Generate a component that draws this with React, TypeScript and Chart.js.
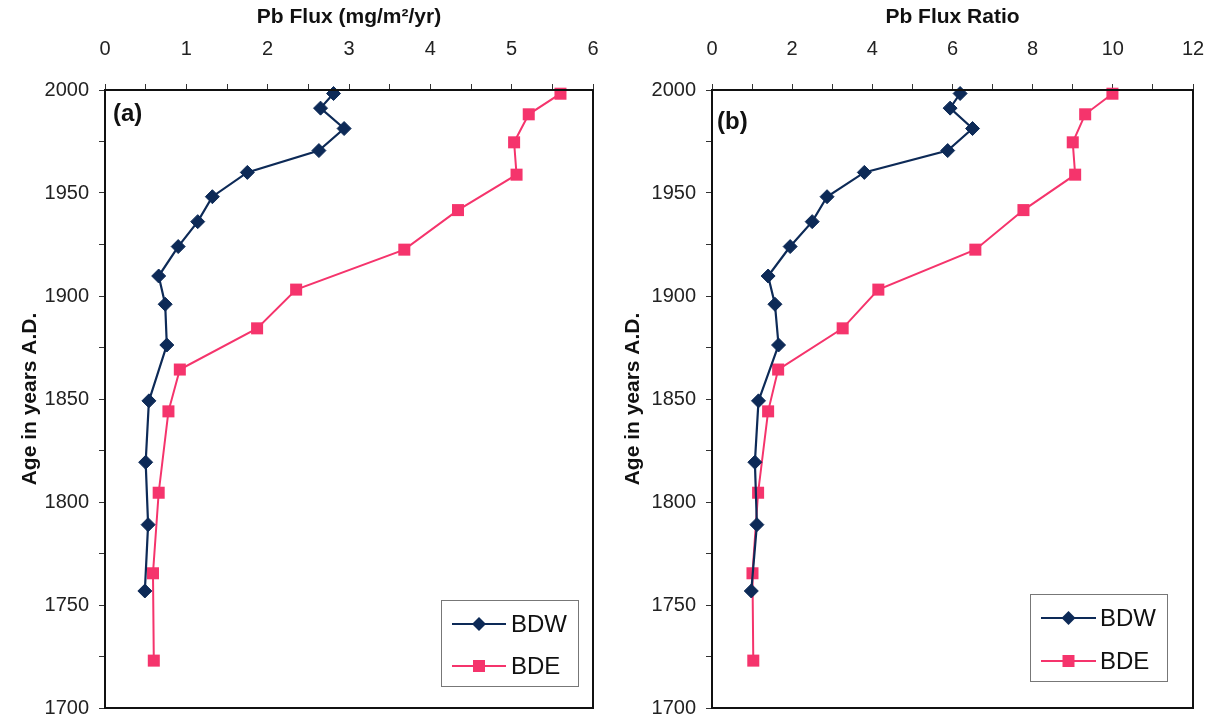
import React, { useEffect, useRef } from 'react';
import { Chart, registerables } from 'chart.js';

Chart.register(...registerables);

// ---- data ----
const bdwYears = [1998.3, 1991.2, 1981.3, 1970.6, 1960.0, 1948.2, 1936.1, 1924.0, 1909.7, 1896.0, 1876.2, 1849.1, 1819.3, 1789.0, 1756.8];
const bdwFlux = [2.81, 2.65, 2.94, 2.63, 1.75, 1.32, 1.14, 0.9, 0.66, 0.74, 0.76, 0.54, 0.5, 0.53, 0.49];
const bdwRatio = [6.19, 5.94, 6.5, 5.88, 3.8, 2.87, 2.5, 1.95, 1.4, 1.57, 1.66, 1.16, 1.07, 1.12, 0.98];

const bdeYears = [1998.2, 1988.2, 1974.6, 1958.9, 1941.7, 1922.5, 1903.1, 1884.3, 1864.3, 1844.0, 1804.5, 1765.4, 1723.0];
const bdeFlux = [5.6, 5.21, 5.03, 5.06, 4.34, 3.68, 2.35, 1.87, 0.92, 0.78, 0.66, 0.59, 0.6];
const bdeRatio = [9.99, 9.31, 9.0, 9.06, 7.77, 6.57, 4.15, 3.26, 1.65, 1.4, 1.15, 1.01, 1.03];

const seriesNames = ['BDW', 'BDE'];
const panelLabels = ['(a)', '(b)'];
const xTitles = ['Pb Flux (mg/m\u00B2/yr)', 'Pb Flux Ratio'];
const yTitle = 'Age in years A.D.';

const FONT = '"Liberation Sans", Arial, Helvetica, sans-serif';
const NAVY = '#0d2a57';
const PINK = '#f5346c';

const panelPlugin = {
  id: 'panelDecor',
  afterDraw(chart: any, _args: any, opts: any) {
    const { ctx, chartArea: a } = chart;
    ctx.save();
    ctx.strokeStyle = '#111';
    ctx.lineWidth = 2;
    ctx.strokeRect(a.left, a.top, a.right - a.left, a.bottom - a.top);

    ctx.fillStyle = '#111';
    ctx.font = `bold 24px ${FONT}`;
    ctx.textBaseline = 'middle';
    ctx.textAlign = 'left';
    ctx.fillText(opts.label, opts.labelX, opts.labelY);

    const lg = opts.legend;
    ctx.lineWidth = 1;
    ctx.strokeStyle = '#777';
    ctx.strokeRect(lg.x + 0.5, lg.y + 0.5, lg.w, lg.h);
    chart.data.datasets.forEach((ds: any, i: number) => {
      const y = lg.y + lg.rows[i];
      ctx.strokeStyle = ds.borderColor;
      ctx.lineWidth = ds.borderWidth;
      ctx.beginPath();
      ctx.moveTo(lg.lineX1, y);
      ctx.lineTo(lg.lineX2, y);
      ctx.stroke();
      ctx.fillStyle = ds.backgroundColor;
      const mx = (lg.lineX1 + lg.lineX2) / 2;
      ctx.beginPath();
      if (ds.pointStyle === 'rectRot') {
        const r = 7;
        ctx.moveTo(mx, y - r);
        ctx.lineTo(mx + r, y);
        ctx.lineTo(mx, y + r);
        ctx.lineTo(mx - r, y);
        ctx.closePath();
      } else {
        const s = 6;
        ctx.rect(mx - s, y - s, 2 * s, 2 * s);
      }
      ctx.fill();
      ctx.fillStyle = '#111';
      ctx.font = `24px ${FONT}`;
      ctx.textAlign = 'left';
      ctx.textBaseline = 'middle';
      ctx.fillText(ds.label, lg.textX, y + 1);
    });
    ctx.restore();
  },
};

function makeConfig(
  bdwX: number[],
  bdeX: number[],
  xMax: number,
  xStep: number,
  labelEvery: number,
  xTitle: string,
  yWidth: number,
  yTitlePad: number,
  padding: any,
  decor: any
): any {
  return {
    type: 'scatter',
    data: {
      datasets: [
        {
          label: seriesNames[0],
          data: bdwYears.map((y, i) => ({ x: bdwX[i], y })),
          showLine: true,
          borderColor: NAVY,
          backgroundColor: NAVY,
          borderWidth: 2.2,
          pointStyle: 'rectRot',
          pointRadius: 7,
          pointBorderWidth: 1,
          pointBorderColor: NAVY,
          pointBackgroundColor: NAVY,
          clip: false,
          order: 1,
        },
        {
          label: seriesNames[1],
          data: bdeYears.map((y, i) => ({ x: bdeX[i], y })),
          showLine: true,
          borderColor: PINK,
          backgroundColor: PINK,
          borderWidth: 2,
          pointStyle: 'rect',
          pointRadius: 8.5,
          pointBorderWidth: 0,
          pointBackgroundColor: PINK,
          clip: false,
          order: 2,
        },
      ],
    },
    options: {
      animation: false,
      responsive: false,
      layout: { padding },
      plugins: {
        legend: { display: false },
        tooltip: { enabled: false },
        panelDecor: decor,
      },
      scales: {
        x: {
          type: 'linear',
          position: 'top',
          min: 0,
          max: xMax,
          afterFit: (s: any) => {
            s.height = 90;
            s.paddingLeft = 0;
            s.paddingRight = 0;
          },
          ticks: {
            stepSize: xStep,
            autoSkip: false,
            maxRotation: 0,
            padding: 23,
            color: '#222',
            font: { family: FONT, size: 20 },
            callback: (v: any) => {
              const q = v / labelEvery;
              return Math.abs(q - Math.round(q)) < 1e-6 ? String(Math.round(v * 100) / 100) : '';
            },
          },
          grid: { drawOnChartArea: false, drawTicks: true, tickLength: 6, color: '#333', lineWidth: 1 },
          border: { display: true, color: '#111', width: 2 },
          title: {
            display: true,
            text: xTitle,
            color: '#111',
            padding: { top: 5, bottom: 0 },
            font: { family: FONT, size: 21, weight: 'bold' },
          },
        },
        y: {
          type: 'linear',
          position: 'left',
          min: 1700,
          max: 2000,
          afterFit: (s: any) => {
            s.width = yWidth;
            s.paddingTop = 0;
            s.paddingBottom = 0;
          },
          ticks: {
            stepSize: 25,
            autoSkip: false,
            padding: 10,
            color: '#222',
            font: { family: FONT, size: 20 },
            callback: (v: any) => (v % 50 === 0 ? String(v) : ''),
          },
          grid: { drawOnChartArea: false, drawTicks: true, tickLength: 6, color: '#333', lineWidth: 1 },
          border: { display: true, color: '#111', width: 2 },
          title: {
            display: true,
            text: yTitle,
            color: '#111',
            padding: { top: yTitlePad, bottom: 0 },
            font: { family: FONT, size: 21, weight: 'bold' },
          },
        },
      },
    },
    plugins: [panelPlugin],
  };
}

function Panel(props: { left: number; width: number; config: any }) {
  const ref = useRef<HTMLCanvasElement | null>(null);
  useEffect(() => {
    if (!ref.current) return;
    const chart = new Chart(ref.current, props.config);
    return () => chart.destroy();
  }, []);
  return (
    <canvas
      ref={ref}
      width={props.width}
      height={717}
      style={{ position: 'absolute', left: props.left, top: 0, width: props.width, height: 717, display: 'block' }}
    />
  );
}

export default function App() {
  const cfgA = makeConfig(bdwFlux, bdeFlux, 6, 0.5, 1, xTitles[0], 105, 18, { left: 0, right: 10, top: 0, bottom: 9 }, {
    label: panelLabels[0],
    labelX: 113,
    labelY: 114,
    legend: { x: 441, y: 600, w: 137, h: 86, rows: [24, 66], lineX1: 452, lineX2: 506, textX: 511 },
  });
  const cfgB = makeConfig(bdwRatio, bdeRatio, 12, 1, 2, xTitles[1], 109, 18, { left: 0, right: 14, top: 0, bottom: 9 }, {
    label: panelLabels[1],
    labelX: 114,
    labelY: 122,
    legend: { x: 427, y: 594, w: 137, h: 87, rows: [24, 67], lineX1: 438, lineX2: 493, textX: 497 },
  });
  return (
    <div style={{ position: 'absolute', left: 0, top: 0, width: 1207, height: 717, background: '#fff', overflow: 'hidden' }}>
      <Panel left={0} width={603} config={cfgA} />
      <Panel left={603} width={604} config={cfgB} />
    </div>
  );
}
